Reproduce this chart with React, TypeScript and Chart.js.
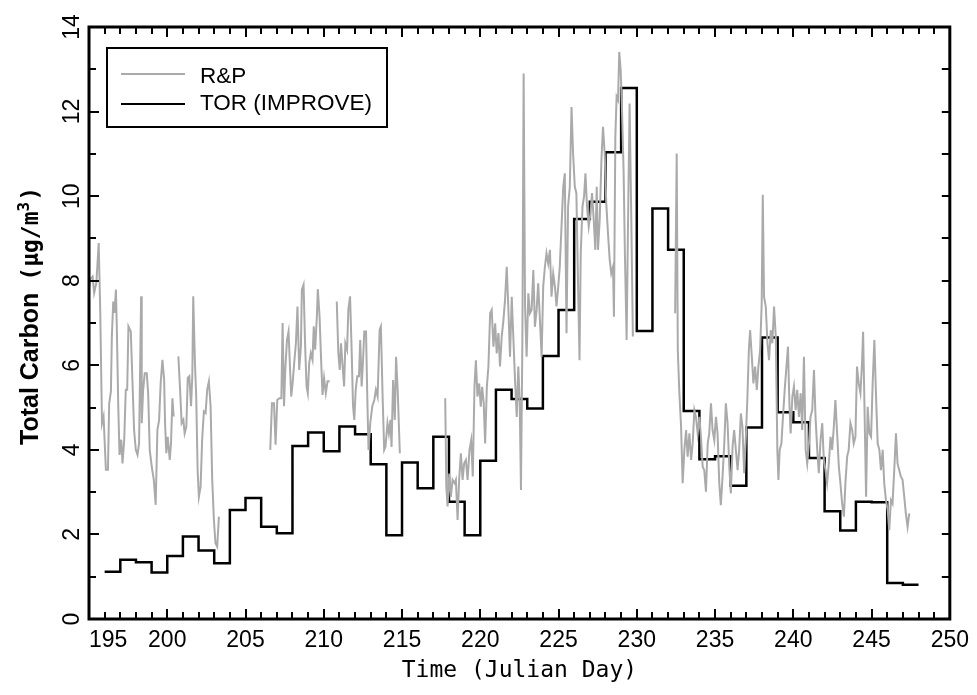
import React, { useEffect, useRef } from 'react';
import { Chart, registerables } from 'chart.js';

Chart.register(...registerables);

// ---------- axis labels ----------
const xTickLabels = ['195', '200', '205', '210', '215', '220', '225', '230', '235', '240', '245', '250'];
const xTitle = 'Time (Julian Day)';
const yTitleMain = 'Total Carbon';
const yTitleUnit = '(µg/m';
const yTitleSup = '3';
const yTitleClose = ')';
const seriesNames = ['R&P', 'TOR (IMPROVE)'];

// ---------- TOR (IMPROVE): daily values, step starts at each day ----------
const torDays = [
  196, 197, 198, 199, 200, 201, 202, 203, 204, 205,
  206, 207, 208, 209, 210, 211, 212, 213, 214, 215,
  216, 217, 218, 219, 220, 221, 222, 223, 224, 225,
  226, 227, 228, 229, 230, 231, 232, 233, 234, 235,
  236, 237, 238, 239, 240, 241, 242, 243, 244, 245,
  246, 247, 248,
];
const torValues = [
  1.12, 1.40, 1.34, 1.10, 1.49, 1.95, 1.62, 1.32, 2.58, 2.86,
  2.18, 2.03, 4.09, 4.41, 3.97, 4.55, 4.37, 3.66, 1.98, 3.70,
  3.09, 4.31, 2.77, 1.98, 3.74, 5.42, 5.20, 4.98, 6.22, 7.31,
  9.46, 9.87, 11.04, 12.56, 6.81, 9.71, 8.73, 4.92, 3.78, 3.85,
  3.15, 4.53, 6.66, 4.89, 4.65, 3.81, 2.55, 2.09, 2.77, 2.76,
  0.85, 0.81, 0.81,
];

// ---------- R&P: continuous record, in segments separated by gaps ----------
const rpDays1 = [
  195.00, 195.10, 195.23, 195.33, 195.47, 195.62, 195.72, 195.83, 195.93, 196.08,
  196.21, 196.29, 196.40, 196.46, 196.55, 196.63, 196.72, 196.78, 196.87, 196.95,
  197.06, 197.14, 197.25, 197.35, 197.44, 197.52, 197.67, 197.78, 197.88, 197.99,
  198.10, 198.20, 198.33, 198.37, 198.46, 198.56, 198.69, 198.78, 198.88, 199.01,
  199.14, 199.26, 199.37, 199.48, 199.58, 199.69, 199.80, 199.86, 199.94, 200.03,
  200.16, 200.24, 200.33, 200.41,
];
const rpValues1 = [
  7.80, 8.05, 8.10, 7.71, 7.95, 8.89, 7.24, 4.63, 4.79, 3.53,
  3.53, 5.10, 5.38, 6.68, 7.51, 7.24, 7.79, 6.84, 5.03, 3.88,
  4.24, 3.68, 4.24, 5.42, 5.42, 6.92, 6.80, 5.58, 4.47, 4.00,
  3.88, 4.16, 7.63, 4.63, 5.42, 5.81, 5.81, 5.34, 4.00, 3.60,
  3.29, 2.70, 4.47, 4.71, 5.58, 6.13, 5.66, 4.63, 3.92, 4.31,
  3.76, 4.16, 5.22, 4.79,
];
const rpDays2 = [
  200.71, 200.82, 200.92, 201.03, 201.11, 201.22, 201.31, 201.41, 201.52, 201.60,
  201.66, 201.77, 201.85, 201.94, 202.02, 202.13, 202.23, 202.34, 202.45, 202.55,
  202.66, 202.77, 202.87, 202.98, 203.08, 203.19, 203.30,
];
const rpValues2 = [
  6.21, 5.42, 4.63, 4.71, 4.39, 4.55, 5.70, 5.74, 5.03, 5.74,
  7.63, 6.05, 5.26, 3.53, 2.89, 3.13, 4.24, 4.91, 4.87, 5.42,
  5.62, 5.03, 3.33, 2.34, 1.79, 1.71, 2.42,
];
const rpDays3 = [
  206.58, 206.69, 206.82, 206.92, 207.03, 207.16, 207.29, 207.37, 207.46, 207.54,
  207.65, 207.75, 207.84, 207.92, 208.01, 208.11, 208.22, 208.32, 208.43, 208.54,
  208.60, 208.71, 208.81, 208.90, 208.98, 209.07, 209.17, 209.28, 209.36, 209.45,
  209.56, 209.62, 209.73, 209.83, 209.92, 210.02, 210.13, 210.24, 210.38,
];
const rpValues3 = [
  4.00, 5.10, 5.10, 4.12, 5.18, 5.22, 5.22, 7.00, 5.03, 5.89,
  6.60, 6.80, 5.97, 5.26, 5.58, 6.05, 6.52, 7.39, 5.89, 6.45,
  7.79, 7.91, 6.45, 5.50, 5.34, 6.05, 6.29, 6.13, 6.92, 6.37,
  7.16, 7.80, 7.16, 6.13, 5.30, 5.70, 5.34, 5.62, 5.62,
];
const rpDays4 = [
  210.83, 210.93, 211.02, 211.10, 211.19, 211.30, 211.38, 211.49, 211.57, 211.68,
  211.78, 211.87, 211.95, 212.04, 212.14, 212.25, 212.33, 212.42, 212.50, 212.59,
  212.70, 212.78, 212.86, 212.97, 213.10, 213.23, 213.33, 213.44, 213.57, 213.65,
  213.76, 213.86, 213.94, 214.07, 214.16, 214.26, 214.33, 214.43, 214.54, 214.62,
  214.73, 214.86,
];
const rpValues4 = [
  7.51, 6.29, 5.89, 6.52, 6.05, 5.50, 6.52, 6.37, 7.31, 7.63,
  6.37, 5.03, 4.71, 5.42, 5.74, 5.74, 6.60, 5.50, 6.05, 6.80,
  6.80, 5.26, 4.00, 4.63, 5.03, 5.18, 5.42, 5.26, 6.84, 6.92,
  5.26, 4.00, 4.07, 4.63, 4.39, 4.71, 4.07, 5.65, 4.71, 6.20,
  5.34, 3.92,
];
const rpDays5 = [
  217.76, 217.83, 217.91, 218.02, 218.12, 218.23, 218.36, 218.44, 218.55, 218.65,
  218.76, 218.87, 218.97, 219.08, 219.19, 219.31, 219.42, 219.52, 219.63, 219.72,
  219.82, 219.93, 220.03, 220.12, 220.22, 220.31, 220.42, 220.52, 220.63, 220.73,
  220.84, 220.95, 221.05, 221.16, 221.26, 221.37, 221.48, 221.58, 221.69, 221.79,
  221.90, 222.01, 222.11, 222.22, 222.33, 222.43, 222.52, 222.60, 222.69, 222.77,
  222.86, 222.96, 223.07, 223.17, 223.28, 223.39, 223.49, 223.60, 223.70, 223.81,
  223.92, 224.02, 224.13, 224.23, 224.34, 224.45, 224.55, 224.66, 224.77, 224.87,
  224.98, 225.08, 225.19, 225.30, 225.40, 225.51, 225.61, 225.72, 225.83, 225.93,
  226.04, 226.14, 226.25, 226.34, 226.42, 226.53, 226.63, 226.72, 226.82, 226.93,
  227.04, 227.14, 227.25, 227.35, 227.44, 227.52, 227.63, 227.74, 227.84, 227.95,
  228.05, 228.16, 228.27, 228.37, 228.48, 228.54, 228.63, 228.71, 228.80, 228.88,
  228.97, 229.05, 229.16, 229.24, 229.35, 229.43, 229.54, 229.65, 229.75,
];
const rpValues5 = [
  5.22, 3.13, 2.66, 3.44, 2.89, 3.29, 3.21, 3.29, 2.34, 3.29,
  3.92, 3.29, 3.68, 3.76, 3.29, 4.00, 4.23, 3.37, 5.49, 6.12,
  5.26, 5.57, 5.02, 5.49, 5.10, 4.15, 5.49, 5.97, 7.23, 7.31,
  6.44, 6.99, 6.28, 6.76, 5.97, 6.68, 7.07, 7.54, 8.33, 7.39,
  6.20, 7.62, 6.68, 5.65, 4.78, 5.97, 5.10, 3.05, 6.60, 12.90,
  7.39, 6.20, 7.70, 7.23, 7.31, 8.25, 6.91, 7.31, 7.94, 7.07,
  6.20, 7.86, 8.33, 8.65, 8.41, 8.73, 7.62, 8.17, 7.86, 7.39,
  7.86, 8.33, 9.28, 10.22, 10.54, 6.76, 9.75, 10.22, 12.11, 11.01,
  10.22, 10.07, 7.86, 6.12, 8.65, 9.75, 9.99, 10.54, 9.75, 9.28,
  9.59, 10.07, 9.43, 8.73, 10.22, 8.73, 9.43, 10.85, 11.64, 11.01,
  9.83, 9.12, 8.49, 8.17, 8.33, 7.15, 11.40, 12.35, 12.27, 13.41,
  12.98, 12.11, 10.54, 8.65, 6.60, 9.04, 12.19, 9.43, 6.68,
];
const rpDays6 = [
  232.45, 232.55, 232.62, 232.72, 232.83, 232.93, 233.04, 233.15, 233.25, 233.36,
  233.47, 233.57, 233.68, 233.78, 233.89, 234.00, 234.10, 234.21, 234.31, 234.42,
  234.53, 234.63, 234.74, 234.84, 234.95, 235.06, 235.16, 235.27, 235.37, 235.48,
  235.59, 235.69, 235.80, 235.91, 236.01, 236.12, 236.22, 236.33, 236.44, 236.54,
  236.65, 236.75, 236.86, 236.97, 237.07, 237.16, 237.24, 237.35, 237.45, 237.56,
  237.67, 237.77, 237.88, 237.98, 238.05, 238.13, 238.24, 238.35, 238.45, 238.56,
  238.66, 238.77, 238.88, 238.98, 239.05, 239.13, 239.24, 239.34, 239.45, 239.58,
  239.66, 239.75, 239.83, 239.94, 240.04, 240.15, 240.25, 240.36, 240.47, 240.57,
  240.68, 240.79, 240.89, 241.00, 241.10, 241.21, 241.32, 241.42, 241.53, 241.63,
  241.74, 241.85, 241.95, 242.06, 242.16, 242.27, 242.38, 242.48, 242.59, 242.69,
  242.80, 242.91, 243.01, 243.12, 243.23, 243.33, 243.44, 243.54, 243.65, 243.76,
  243.86, 243.97, 244.07, 244.18, 244.29, 244.39, 244.46, 244.54, 244.65, 244.75,
  244.86, 244.97, 245.07, 245.18, 245.28, 245.39, 245.50, 245.60, 245.71, 245.81,
  245.92, 246.03, 246.13, 246.24, 246.34, 246.45, 246.56, 246.66, 246.77, 246.87,
  246.98, 247.09, 247.19, 247.30, 247.41,
];
const rpValues6 = [
  7.23, 11.01, 6.36, 5.34, 4.55, 3.21, 4.00, 4.47, 3.84, 4.39,
  3.76, 4.15, 4.94, 4.78, 4.39, 4.78, 4.31, 3.60, 3.52, 3.01,
  4.15, 4.39, 5.10, 4.47, 4.23, 4.78, 4.39, 3.21, 2.69, 3.37,
  4.15, 5.10, 4.63, 3.60, 2.97, 4.08, 4.47, 4.00, 3.52, 4.00,
  4.86, 4.55, 3.45, 4.31, 5.26, 6.36, 6.83, 6.20, 5.57, 5.97,
  5.42, 5.97, 6.36, 7.46, 10.03, 7.62, 7.39, 6.52, 6.12, 6.83,
  6.52, 7.39, 6.68, 4.00, 3.29, 4.00, 4.15, 4.78, 5.42, 6.05,
  6.44, 5.10, 4.39, 5.26, 5.50, 4.94, 5.42, 4.78, 5.34, 4.47,
  6.20, 4.00, 3.68, 4.15, 4.78, 4.94, 5.89, 4.78, 4.00, 3.45,
  4.23, 4.63, 3.76, 3.52, 3.21, 3.68, 4.31, 4.00, 4.55, 5.18,
  4.39, 3.60, 3.21, 2.73, 2.42, 3.21, 3.84, 4.00, 4.63, 4.47,
  4.15, 4.31, 5.97, 5.57, 5.34, 6.05, 6.79, 5.18, 2.89, 5.02,
  4.39, 4.31, 5.57, 6.60, 5.34, 4.15, 4.00, 3.52, 4.00, 3.21,
  2.81, 2.58, 2.10, 2.81, 2.73, 3.52, 4.39, 3.68, 3.52, 3.37,
  3.29, 2.89, 2.50, 2.18, 2.50,
];

const rpSegments: [number[], number[]][] = [
  [rpDays1, rpValues1],
  [rpDays2, rpValues2],
  [rpDays3, rpValues3],
  [rpDays4, rpValues4],
  [rpDays5, rpValues5],
  [rpDays6, rpValues6],
];

// ---------- styling ----------
const SANS = '"Liberation Sans", Arial, Helvetica, sans-serif';
const MONO = '"DejaVu Sans Mono", monospace';
const GRAY = '#aaaaaa';
const BLACK = '#000000';

function buildRp() {
  const pts: { x: number; y: number | null }[] = [];
  rpSegments.forEach(([days, vals], si) => {
    if (si > 0) {
      const prev = rpSegments[si - 1][0];
      pts.push({ x: (prev[prev.length - 1] + days[0]) / 2, y: null });
    }
    days.forEach((d, i) => pts.push({ x: d, y: vals[i] }));
  });
  return pts;
}

const frameAndTicks = {
  id: 'frameAndTicks',
  afterDatasetsDraw(chart: any) {
    const { ctx, chartArea, scales } = chart;
    const { left, right, top, bottom } = chartArea;
    const xs = scales.x;
    const ys = scales.y;
    ctx.save();
    ctx.strokeStyle = BLACK;
    ctx.lineWidth = 2;
    ctx.beginPath();
    for (let d = xs.min + 1; d < xs.max; d += 1) {
      const px = Math.round(xs.getPixelForValue(d));
      const len = d % 5 === 0 ? 10 : 7;
      ctx.moveTo(px, bottom);
      ctx.lineTo(px, bottom - len);
      ctx.moveTo(px, top);
      ctx.lineTo(px, top + len);
    }
    for (let v = ys.min + 1; v < ys.max; v += 1) {
      const py = Math.round(ys.getPixelForValue(v));
      const len = v % 2 === 0 ? 10 : 7;
      ctx.moveTo(left, py);
      ctx.lineTo(left + len, py);
      ctx.moveTo(right, py);
      ctx.lineTo(right - 8, py);
    }
    ctx.stroke();
    ctx.lineWidth = 3;
    ctx.strokeRect(left, top, right - left, bottom - top);
    ctx.restore();
  },
};

// y-axis title drawn with two fonts, like the original (bold sans + stroke-style unit)
const yTitlePlugin = {
  id: 'yTitleMixed',
  afterDraw(chart: any) {
    const { ctx, chartArea } = chart;
    const cy = (chartArea.top + chartArea.bottom) / 2 - 7;
    const baseX = 38;
    const mainFont = `bold 25px ${SANS}`;
    const unitFont = `bold 23px ${MONO}`;
    const supFont = `bold 16px ${MONO}`;
    ctx.save();
    ctx.fillStyle = BLACK;
    ctx.textBaseline = 'alphabetic';
    ctx.textAlign = 'left';
    ctx.font = mainFont;
    const wMain = ctx.measureText(yTitleMain).width;
    const gap = 12;
    ctx.font = unitFont;
    const wUnit = ctx.measureText(yTitleUnit).width;
    const wClose = ctx.measureText(yTitleClose).width;
    ctx.font = supFont;
    const wSup = ctx.measureText(yTitleSup).width;
    const total = wMain + gap + wUnit + wSup + 1 + wClose;
    ctx.translate(baseX, cy);
    ctx.rotate(-Math.PI / 2);
    let u = -total / 2;
    ctx.font = mainFont;
    ctx.fillText(yTitleMain, u, 0);
    u += wMain + gap;
    ctx.font = unitFont;
    ctx.fillText(yTitleUnit, u, 0);
    u += wUnit;
    ctx.font = supFont;
    ctx.fillText(yTitleSup, u, -9);
    u += wSup + 1;
    ctx.font = unitFont;
    ctx.fillText(yTitleClose, u, 0);
    ctx.restore();
  },
};

const boxedLegend = {
  id: 'boxedLegend',
  afterDraw(chart: any) {
    const { ctx } = chart;
    const bx = 107, by = 48, bw = 280, bh = 79;
    ctx.save();
    ctx.fillStyle = '#ffffff';
    ctx.fillRect(bx, by, bw, bh);
    ctx.strokeStyle = BLACK;
    ctx.lineWidth = 2;
    ctx.strokeRect(bx, by, bw, bh);
    const rows = [
      { lineY: 74, textY: 83 },
      { lineY: 104, textY: 109.5 },
    ];
    chart.data.datasets.forEach((ds: any, i: number) => {
      const r = rows[i];
      ctx.strokeStyle = ds.borderColor;
      ctx.lineWidth = 2;
      ctx.beginPath();
      ctx.moveTo(121, r.lineY);
      ctx.lineTo(185, r.lineY);
      ctx.stroke();
      ctx.fillStyle = BLACK;
      ctx.font = `22.5px ${SANS}`;
      ctx.textBaseline = 'alphabetic';
      ctx.textAlign = 'left';
      ctx.fillText(ds.label, 200, r.textY);
    });
    ctx.restore();
  },
};

export default function App() {
  const ref = useRef<HTMLCanvasElement>(null);

  useEffect(() => {
    document.body.style.margin = '0';
    const canvas = ref.current;
    if (!canvas) return;
    const chart = new Chart(canvas, {
      type: 'line',
      data: {
        datasets: [
          {
            label: seriesNames[0],
            data: buildRp() as any,
            borderColor: GRAY,
            borderWidth: 2,
            pointRadius: 0,
            tension: 0,
            spanGaps: false,
          },
          {
            label: seriesNames[1],
            data: torDays.map((d, i) => ({ x: d, y: torValues[i] })),
            borderColor: BLACK,
            borderWidth: 2.5,
            pointRadius: 0,
            stepped: 'before',
          },
        ],
      },
      options: {
        responsive: false,
        animation: false,
        devicePixelRatio: 1,
        layout: { padding: { top: 27, right: 24, left: 0, bottom: 0 } },
        plugins: {
          legend: { display: false },
          tooltip: { enabled: false },
        },
        scales: {
          x: {
            type: 'linear',
            min: 195,
            max: 250,
            afterFit: (s: any) => {
              s.height = 76;
            },
            grid: { display: false, drawTicks: false },
            border: { display: false },
            ticks: {
              stepSize: 5,
              autoSkip: false,
              maxRotation: 0,
              minRotation: 0,
              padding: 8,
              color: BLACK,
              font: { family: SANS, size: 23 },
              callback: (v: any) => {
                const idx = xTickLabels.indexOf(String(v));
                if (idx < 0) return '';
                return idx === 0 ? '      ' + xTickLabels[idx] : xTickLabels[idx];
              },
            },
            title: {
              display: true,
              text: xTitle,
              color: BLACK,
              font: { family: MONO, size: 23 },
              padding: { top: 0, bottom: 10 },
            },
          },
          y: {
            type: 'linear',
            min: 0,
            max: 14,
            afterFit: (s: any) => {
              s.width = 89;
            },
            grid: { display: false, drawTicks: false },
            border: { display: false },
            ticks: {
              stepSize: 2,
              minRotation: 90,
              maxRotation: 90,
              crossAlign: 'center',
              padding: 4,
              color: BLACK,
              font: { family: SANS, size: 23 },
            },
            title: { display: false },
          },
        },
      },
      plugins: [frameAndTicks, yTitlePlugin, boxedLegend],
    });
    return () => chart.destroy();
  }, []);

  return (
    <div style={{ width: 977, height: 695, background: '#ffffff' }}>
      <canvas ref={ref} width={977} height={695} style={{ display: 'block' }} />
    </div>
  );
}
